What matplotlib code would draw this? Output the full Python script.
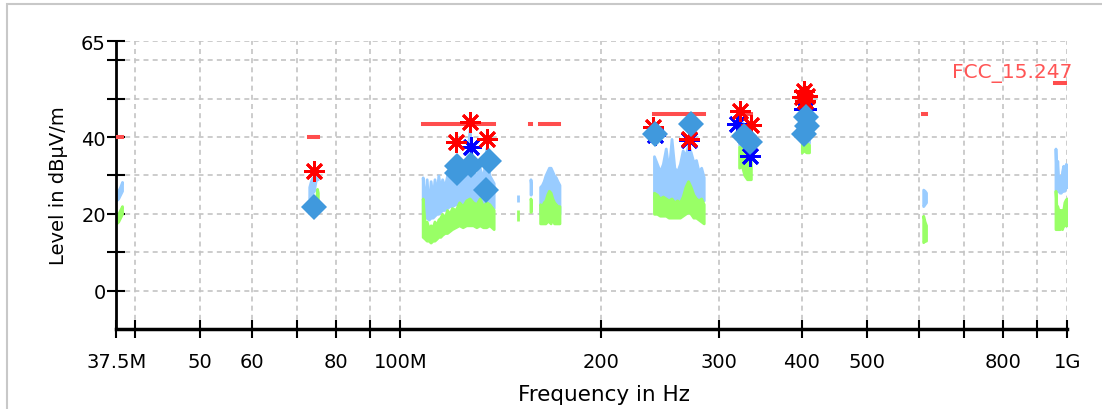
import numpy as np
import matplotlib
matplotlib.use('Agg')
import matplotlib.pyplot as plt
from matplotlib.ticker import NullLocator, FixedLocator, FixedFormatter
from matplotlib.patches import Rectangle
from matplotlib.transforms import blended_transform_factory

# --- traces (MHz, dBuV/m): peak band (light blue) and average band (green)
f_b1 = [37.5, 37.75, 38.0, 38.25]
pk_lo_b1 = [23.5, 24.0, 25.0, 26.0]
pk_hi_b1 = [25.0, 26.0, 27.0, 28.3]
av_lo_b1 = [17.5, 18.0, 19.0, 20.0]
av_hi_b1 = [19.5, 20.0, 21.0, 22.0]

f_b2 = [73.0, 73.4, 73.8, 74.2, 74.6, 74.8, 75.0, 75.2]
pk_lo_b2 = [24.0, 24.5, 25.5, 26.0, 28.5, 29.0, 29.0, 29.0]
pk_hi_b2 = [27.0, 28.5, 29.5, 29.5, 30.0, 30.5, 30.3, 30.0]
av_lo_b2 = [np.nan, np.nan, np.nan, np.nan, np.nan, 20.0, 20.5, 21.0]
av_hi_b2 = [np.nan, np.nan, np.nan, np.nan, np.nan, 24.0, 26.5, 25.5]

f_b3 = [108.0, 108.8, 109.5, 110.3, 111.0, 111.8, 112.5, 113.3, 114.0, 114.8,
        115.5, 116.5, 117.5, 118.5, 119.5, 121.0, 122.5, 124.0, 125.5, 127.0,
        128.5, 130.0, 131.5, 133.0, 134.5, 136.0, 138.0]
pk_lo_b3 = [20, 19, 19, 18.5, 19, 19, 19.5, 20, 20, 20.5, 21, 21, 21.5, 22, 22,
            22.5, 23, 22.5, 23, 23, 23, 22.5, 23, 22, 22, 22, 21.5]
pk_hi_b3 = [29.5, 22, 29, 21, 28.5, 24, 29, 25, 30, 26, 29, 27, 30, 28, 31,
            30, 32, 30, 33, 42, 31, 30, 32, 29, 37, 30, 28]
av_lo_b3 = [14, 13.5, 13, 13, 12.5, 13, 13, 13.5, 14, 14, 14.5, 15, 15, 15.5, 16,
            16.5, 17, 16.5, 17, 17, 17, 16.5, 17, 16.5, 16.5, 17, 16]
av_hi_b3 = [24, 17, 18, 16, 17, 16.5, 18, 17, 18.5, 19, 20, 19, 21, 20, 21.5,
            21, 23, 22, 23.5, 24, 23, 22.5, 24, 22, 23, 22.5, 21]

f_b4a = [149.9, 150.05]
pk_lo_b4a = [23.0, 23.0]
pk_hi_b4a = [25.0, 25.0]
av_lo_b4a = [18.2, 18.2]
av_hi_b4a = [21.0, 21.0]

f_b4b = [156.7, 156.9]
pk_lo_b4b = [25.0, 25.0]
pk_hi_b4b = [29.0, 28.0]
av_lo_b4b = [20.5, 20.5]
av_hi_b4b = [24.0, 23.5]

f_b4c = [162.0, 163.0, 164.0, 165.0, 166.0, 167.0, 168.0, 169.0, 170.0, 171.0, 172.0, 173.2]
pk_lo_b4c = [20, 20, 20, 20, 20, 20, 20, 20, 20, 20, 20, 20]
pk_hi_b4c = [27.0, 27.5, 28.5, 30.0, 31.0, 32.0, 32.0, 31.0, 30.0, 29.5, 28.5, 27.5]
av_lo_b4c = [17.5, 17.5, 17.5, 17.5, 18.0, 18.0, 17.5, 19.0, 17.5, 17.5, 17.5, 17.5]
av_hi_b4c = [22.5, 22.0, 23.0, 23.5, 25.0, 26.0, 25.5, 24.0, 23.0, 22.5, 22.0, 22.0]

f_b5 = [240, 242.5, 245, 247.5, 250, 252.5, 255, 257.5, 260, 262.5, 265, 267.5,
        270, 272.5, 275, 277.5, 280, 282.5, 285]
pk_lo_b5 = [24, 24, 24, 23.5, 23.5, 23, 23, 23, 23, 23.5, 24, 25, 25, 25, 24, 24, 24, 24, 23.5]
pk_hi_b5 = [35, 33, 31, 33, 37, 31, 39.5, 32, 31, 33, 36.5, 35, 38, 36, 33.5, 34, 31, 32, 29.5]
av_lo_b5 = [20, 20, 19.5, 19.5, 19.5, 19, 19, 19, 19, 19, 19.5, 20, 20.5, 20, 19, 19, 18.5, 18, 17.5]
av_hi_b5 = [25.5, 25, 24, 24.5, 24, 23.5, 24, 23, 23.5, 23, 24.5, 27, 28.5, 27, 25, 24, 23.5, 24, 22.5]

f_b6 = [322, 325, 328, 331, 335.4]
pk_lo_b6 = [38, 37, 36, 35.5, 35]
pk_hi_b6 = [45.5, 44, 43, 42, 41]
av_lo_b6 = [32, 32.5, 30, 29, 29]
av_hi_b6 = [37.5, 37, 36, 35.5, 35]

f_b7 = [399.9, 403, 406, 410]
pk_lo_b7 = [39, 39.5, 39, 38.5]
pk_hi_b7 = [46, 47.5, 46.5, 45]
av_lo_b7 = [36, 36.5, 36, 36]
av_hi_b7 = [39.5, 39, 38.5, 38]

f_b8 = [608, 611, 614]
pk_lo_b8 = [22, 22.5, 23]
pk_hi_b8 = [26.3, 26, 25.5]
av_lo_b8 = [12.6, 13, 13]
av_hi_b8 = [19.5, 18, 17]

f_b9 = [960, 963, 966, 970, 974, 978, 982, 986, 990, 995, 1000]
pk_lo_b9 = [26, 26, 26, 26, 25.5, 25.5, 26, 26, 26, 27, 27]
pk_hi_b9 = [37, 29, 33.8, 28, 29.9, 27, 31, 32.5, 30, 33, 32]
av_lo_b9 = [16, 16, 16, 16, 16, 16.5, 16, 17, 17, 17, 17]
av_hi_b9 = [26, 22, 22, 21, 21, 21, 21, 21, 23, 23.8, 24]

# --- limit line FCC_15.247 (restricted bands)
lim_f1 = [37.5, 73, 74.8, 108, 123, 149.9, 156.52475, 156.7, 162.0125, 167.72, 240, 322, 399.9, 608, 960]
lim_f2 = [38.25, 74.6, 75.2, 121.94, 138, 150.05, 156.52525, 156.9, 167.17, 173.2, 285, 335.4, 410, 614, 1000]
lim_lvl = [40, 40, 40, 43.5, 43.5, 43.5, 43.5, 43.5, 43.5, 43.5, 46, 46, 46, 46, 54]

# --- final measurements
pk_f = [74.2, 121.0, 127.2, 134.7, 239.4, 270.6, 322.7, 335.8, 400.5, 402.5, 404, 407]
pk_v = [31.2, 38.6, 44.0, 39.6, 42.5, 39.6, 46.8, 43.1, 50.3, 52.1, 49.3, 50.8]
av_f = [127.4, 241, 271.3, 320, 334, 403, 406]
av_v = [37.5, 40.5, 39.3, 43.4, 35.1, 47.4, 47.2]
qp_f = [74.3, 121.5, 121.5, 127.6, 135.8, 134.4, 241, 272.6, 327.4, 334, 406, 406.5, 403]
qp_v = [21.8, 32.5, 30.6, 32.8, 33.8, 26.3, 40.8, 43.4, 40.3, 38.6, 45.1, 42.9, 40.8]

xticks = [37.5, 40, 50, 60, 70, 80, 90, 100, 200, 300, 400, 500, 600, 700, 800, 900, 1000]
xlabels = ['37.5M', '', '50', '60', '', '80', '', '100M', '200', '300', '400', '500', '', '', '800', '', '1G']
yticks = [0, 10, 20, 30, 40, 50, 60, 65]
ylabels = ['0', '', '20', '', '40', '', '', '65']

plt.rcParams['font.family'] = ['DejaVu Sans']

fig = plt.figure(figsize=(11.02, 4.10), dpi=100)
ax = fig.add_axes([116.3/1102, 80/410, 951/1102, 288/410])

bands = [
    (f_b1, pk_lo_b1, pk_hi_b1, av_lo_b1, av_hi_b1),
    (f_b2, pk_lo_b2, pk_hi_b2, av_lo_b2, av_hi_b2),
    (f_b3, pk_lo_b3, pk_hi_b3, av_lo_b3, av_hi_b3),
    (f_b4a, pk_lo_b4a, pk_hi_b4a, av_lo_b4a, av_hi_b4a),
    (f_b4b, pk_lo_b4b, pk_hi_b4b, av_lo_b4b, av_hi_b4b),
    (f_b4c, pk_lo_b4c, pk_hi_b4c, av_lo_b4c, av_hi_b4c),
    (f_b5, pk_lo_b5, pk_hi_b5, av_lo_b5, av_hi_b5),
    (f_b6, pk_lo_b6, pk_hi_b6, av_lo_b6, av_hi_b6),
    (f_b7, pk_lo_b7, pk_hi_b7, av_lo_b7, av_hi_b7),
    (f_b8, pk_lo_b8, pk_hi_b8, av_lo_b8, av_hi_b8),
    (f_b9, pk_lo_b9, pk_hi_b9, av_lo_b9, av_hi_b9),
]
for f, plo, phi, alo, ahi in bands:
    ax.fill_between(f, plo, phi, color='#99ccff', lw=2, zorder=2)
for f, plo, phi, alo, ahi in bands:
    ax.fill_between(f, alo, ahi, color='#99ff66', lw=2, zorder=2.1)

for a, b, lv in zip(lim_f1, lim_f2, lim_lvl):
    ax.plot([a, b], [lv, lv], color='#ff4d4d', lw=2.9, solid_capstyle='projecting', zorder=3)

ax.plot(av_f, av_v, ls='none', marker=(8, 2, 0), ms=15, mew=2, color='#0000ff', zorder=4)
ax.plot(pk_f, pk_v, ls='none', marker=(8, 2, 0), ms=15, mew=2, color='#ff0000', zorder=5)
ax.plot(qp_f, qp_v, ls='none', marker='D', ms=13, mew=0, color='#4099dd', zorder=6)

ax.set_xscale('log')
ax.set_xlim(37.5, 1000)
ax.set_ylim(-10, 65)
ax.xaxis.set_major_locator(FixedLocator(xticks))
ax.xaxis.set_major_formatter(FixedFormatter(xlabels))
ax.xaxis.set_minor_locator(NullLocator())
ax.set_yticks(yticks)
ax.set_yticklabels(ylabels)

ax.grid(True, color='#c4c4c4', ls=(0, (3, 2.5)), lw=1.2)
ax.set_axisbelow(True)
for s in ['top', 'right']:
    ax.spines[s].set_visible(False)
ax.spines['left'].set_linewidth(2)
ax.spines['bottom'].set_linewidth(2.5)
ax.tick_params(axis='both', direction='inout', length=13, width=1.5, labelsize=14)
ax.tick_params(axis='x', pad=10)
ax.tick_params(axis='y', pad=1)

ax.set_xlabel('Frequency in Hz', fontsize=15.5)
ax.xaxis.set_label_coords(0.513, -0.19)
ax.set_ylabel('Level in dBµV/m', fontsize=14, va='center')
ax.yaxis.set_label_coords(-0.061, 0.5)

tr = blended_transform_factory(ax.transAxes, ax.transData)
ax.text(1.0057, 56.8, 'FCC_15.247', transform=tr, ha='right', va='center',
        color='#ff5555', fontsize=14.5)

fig.patches.append(Rectangle((7/1102, -0.1), 1.2, (405/410) + 0.1, transform=fig.transFigure,
                             fill=False, ec='#c8c8c8', lw=1.5))

fig.savefig('out.png', dpi=100)
